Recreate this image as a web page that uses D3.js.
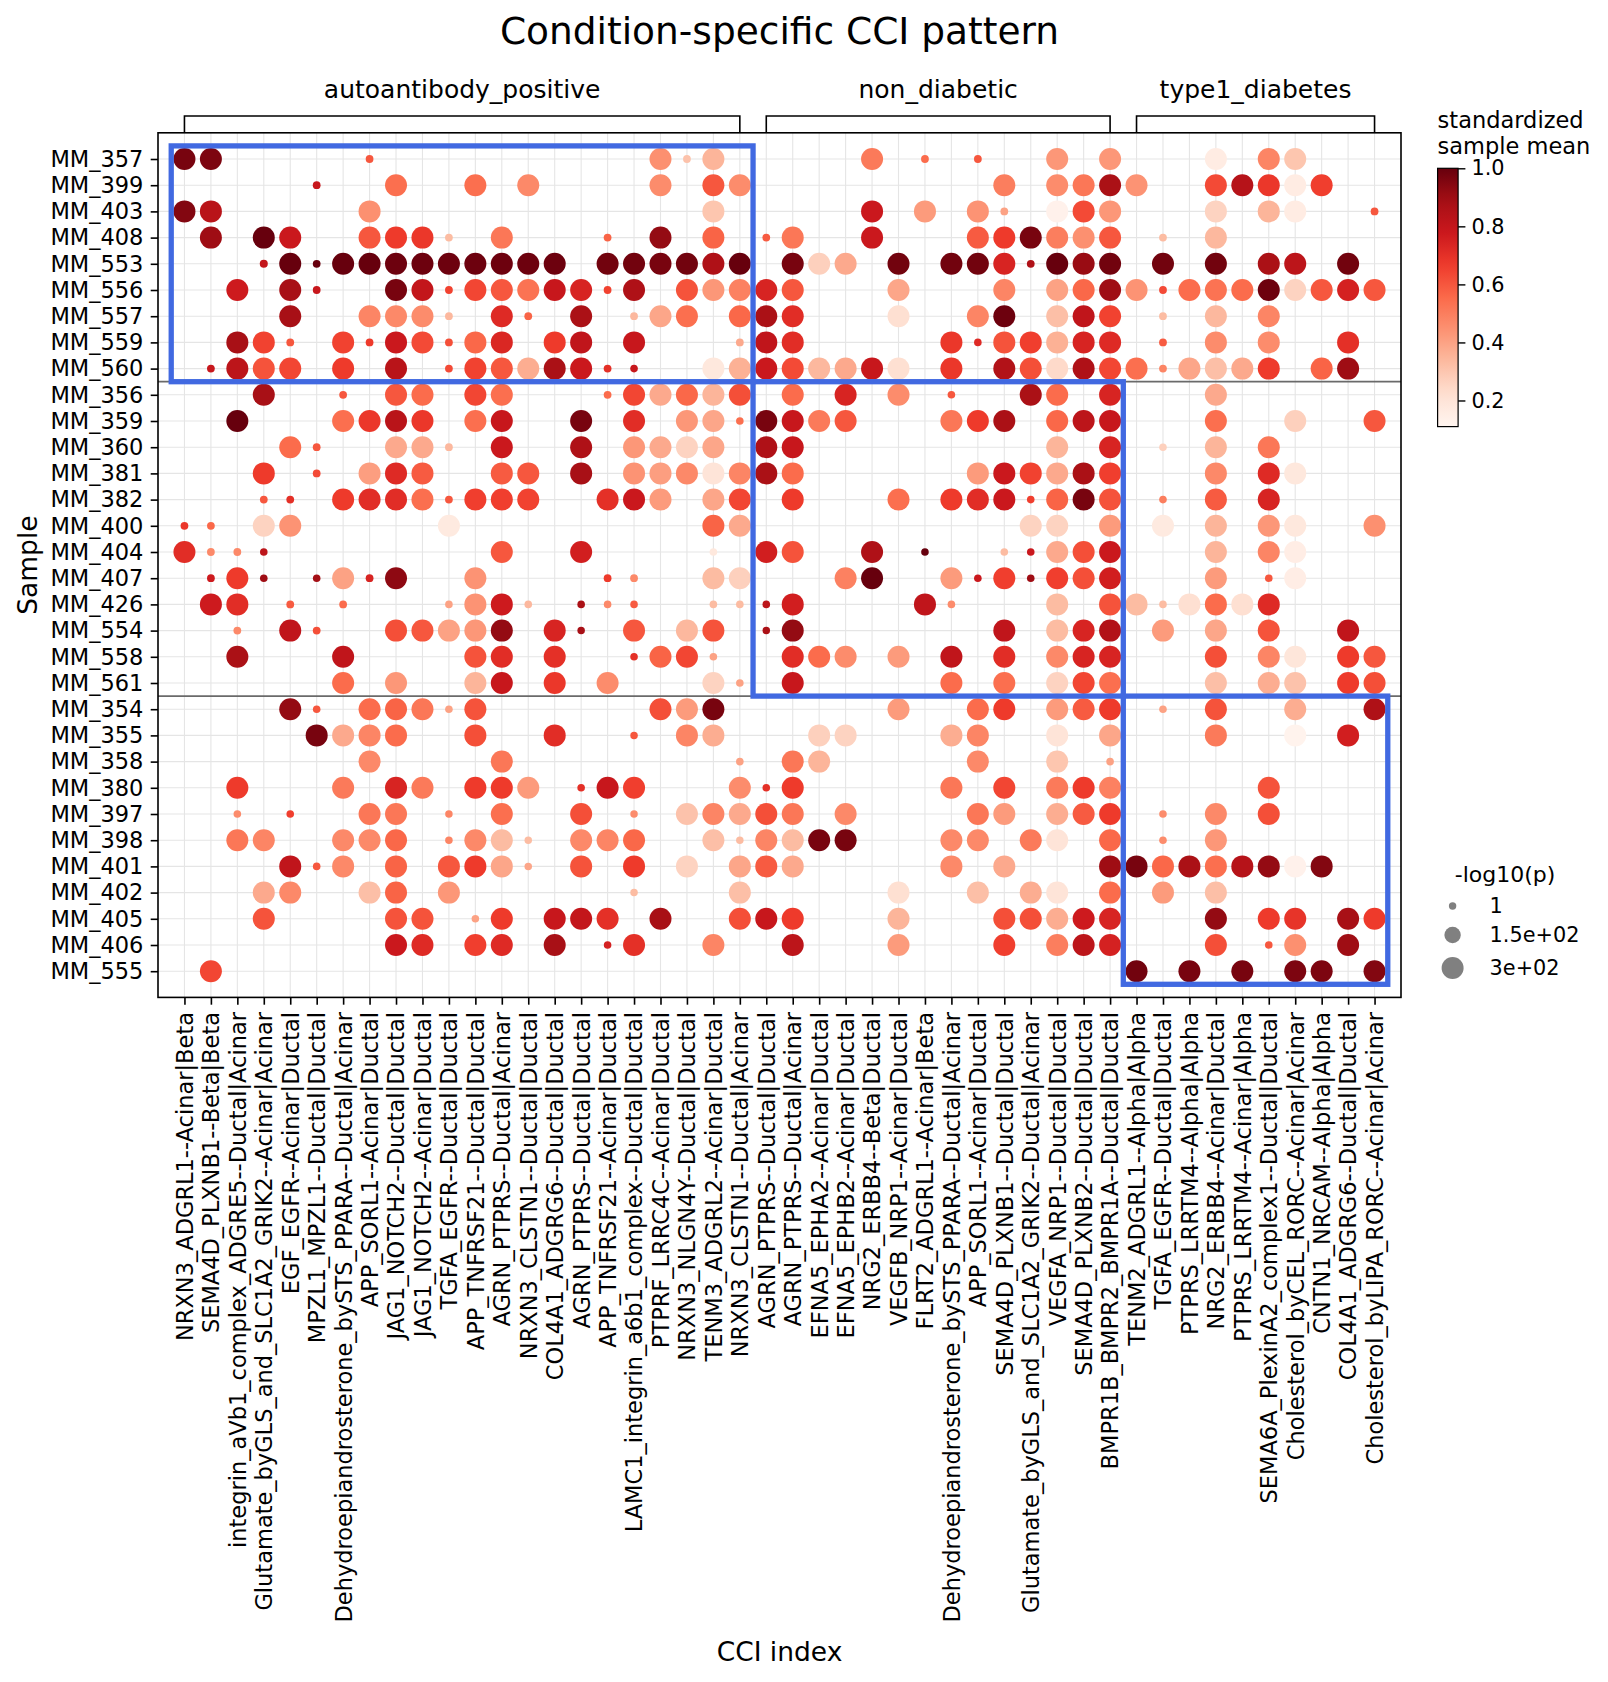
<!DOCTYPE html>
<html><head><meta charset="utf-8">
<script src="https://cdn.jsdelivr.net/npm/d3@7"></script>
<style>body{margin:0;background:#fff}svg text{font-family:"DejaVu Sans",sans-serif;fill:#000}</style>
</head><body>
<svg id="chart" width="1608" height="1682"></svg>
<script>
// ---------------- DATA ----------------
const samples = ["MM_357","MM_399","MM_403","MM_408","MM_553","MM_556","MM_557","MM_559","MM_560",
  "MM_356","MM_359","MM_360","MM_381","MM_382","MM_400","MM_404","MM_407","MM_426","MM_554","MM_558","MM_561",
  "MM_354","MM_355","MM_358","MM_380","MM_397","MM_398","MM_401","MM_402","MM_405","MM_406","MM_555"];
const sampleGroupSizes = [9, 12, 11];
const cciIndex = ["NRXN3_ADGRL1--Acinar|Beta","SEMA4D_PLXNB1--Beta|Beta","integrin_aVb1_complex_ADGRE5--Ductal|Acinar",
  "Glutamate_byGLS_and_SLC1A2_GRIK2--Acinar|Acinar","EGF_EGFR--Acinar|Ductal","MPZL1_MPZL1--Ductal|Ductal",
  "Dehydroepiandrosterone_bySTS_PPARA--Ductal|Acinar","APP_SORL1--Acinar|Ductal","JAG1_NOTCH2--Ductal|Ductal",
  "JAG1_NOTCH2--Acinar|Ductal","TGFA_EGFR--Ductal|Ductal","APP_TNFRSF21--Ductal|Ductal","AGRN_PTPRS--Ductal|Acinar",
  "NRXN3_CLSTN1--Ductal|Ductal","COL4A1_ADGRG6--Ductal|Ductal","AGRN_PTPRS--Ductal|Ductal","APP_TNFRSF21--Acinar|Ductal",
  "LAMC1_integrin_a6b1_complex--Ductal|Ductal","PTPRF_LRRC4C--Acinar|Ductal","NRXN3_NLGN4Y--Ductal|Ductal",
  "TENM3_ADGRL2--Acinar|Ductal","NRXN3_CLSTN1--Ductal|Acinar","AGRN_PTPRS--Ductal|Ductal","AGRN_PTPRS--Ductal|Acinar",
  "EFNA5_EPHA2--Acinar|Ductal","EFNA5_EPHB2--Acinar|Ductal","NRG2_ERBB4--Beta|Ductal","VEGFB_NRP1--Acinar|Ductal",
  "FLRT2_ADGRL1--Acinar|Beta","Dehydroepiandrosterone_bySTS_PPARA--Ductal|Acinar","APP_SORL1--Acinar|Ductal",
  "SEMA4D_PLXNB1--Ductal|Ductal","Glutamate_byGLS_and_SLC1A2_GRIK2--Ductal|Acinar","VEGFA_NRP1--Ductal|Ductal",
  "SEMA4D_PLXNB2--Ductal|Ductal","BMPR1B_BMPR2_BMPR1A--Ductal|Ductal","TENM2_ADGRL1--Alpha|Alpha","TGFA_EGFR--Ductal|Ductal",
  "PTPRS_LRRTM4--Alpha|Alpha","NRG2_ERBB4--Acinar|Ductal","PTPRS_LRRTM4--Acinar|Alpha","SEMA6A_PlexinA2_complex1--Ductal|Ductal",
  "Cholesterol_byCEL_RORC--Acinar|Acinar","CNTN1_NRCAM--Alpha|Alpha","COL4A1_ADGRG6--Ductal|Ductal","Cholesterol_byLIPA_RORC--Acinar|Acinar"];
const groupNames = ["autoantibody_positive","non_diabetic","type1_diabetes"];
const cciGroupSizes = [22, 14, 10];
const colorDomain = [0.11, 1.0];
const colorbarTicks = [0.2, 0.4, 0.6, 0.8, 1.0];
const sizeDomain = [1, 300];
const sizeLegendValues = [1, 150, 300];
const sizeLegendLabels = ["1", "1.5e+02", "3e+02"];

// [sample, [[cci column (1-based), standardized sample mean, -log10(p)], ...]]
const autoantibodyDots = [
 ["MM_357",[[1,.97,300],[2,.96,300],[8,.6,5],[19,.45,300],[20,.31,5],[21,.35,300],[27,.51,300],[29,.55,5],[31,.6,5],[34,.43,300],[36,.43,300],[40,.16,300],[42,.48,300],[43,.3,300]]],
 ["MM_399",[[6,.79,5],[9,.54,300],[12,.54,300],[14,.47,300],[19,.46,300],[21,.6,300],[22,.46,300],[32,.5,300],[34,.46,300],[35,.52,300],[36,.87,300],[37,.44,300],[40,.63,300],[41,.84,300],[42,.68,300],[43,.16,300],[44,.66,300]]],
 ["MM_403",[[1,.95,300],[2,.83,300],[8,.45,300],[21,.3,300],[27,.78,300],[29,.42,300],[31,.44,300],[32,.4,5],[34,.13,300],[35,.63,300],[36,.43,300],[40,.26,300],[42,.35,300],[43,.16,300],[46,.6,5]]],
 ["MM_408",[[2,.9,300],[4,1,300],[5,.78,300],[8,.6,300],[9,.67,300],[10,.68,300],[11,.33,5],[13,.52,300],[17,.57,5],[19,.92,300],[21,.57,300],[23,.59,5],[24,.52,300],[27,.78,300],[31,.59,300],[32,.67,300],[33,.97,300],[34,.5,300],[35,.45,300],[36,.6,300],[38,.33,5],[40,.34,300]]],
 ["MM_553",[[4,.8,8],[5,1,300],[6,1,5],[7,1,300],[8,1,300],[9,.99,300],[10,.99,300],[11,.99,300],[12,.99,300],[13,.99,300],[14,.99,300],[15,.99,300],[17,.98,300],[18,.98,300],[19,.97,300],[20,.98,300],[21,.86,300],[22,1,300],[24,.97,300],[25,.27,300],[26,.38,300],[28,.98,300],[30,.98,300],[31,.98,300],[32,.74,300],[33,.86,5],[34,1,300],[35,.91,300],[36,.98,300],[38,.98,300],[40,.98,300],[42,.87,300],[43,.82,300],[45,.98,300]]],
 ["MM_556",[[3,.77,300],[5,.88,300],[6,.79,5],[9,.97,300],[10,.8,300],[11,.65,5],[12,.64,300],[13,.6,300],[14,.53,300],[15,.79,300],[16,.74,300],[17,.65,5],[18,.86,300],[20,.61,300],[21,.43,300],[22,.49,300],[23,.74,300],[24,.6,300],[28,.39,300],[32,.48,300],[34,.4,300],[35,.56,300],[36,.9,300],[37,.44,300],[38,.63,5],[39,.55,300],[40,.53,300],[41,.55,300],[42,.99,300],[43,.26,300],[44,.6,300],[45,.75,300],[46,.6,300]]],
 ["MM_557",[[5,.88,300],[8,.48,300],[9,.47,300],[10,.46,300],[11,.34,5],[13,.72,300],[14,.57,5],[16,.87,300],[18,.34,5],[19,.39,300],[20,.54,300],[22,.56,300],[23,.87,300],[24,.71,300],[28,.22,300],[31,.48,300],[32,.99,300],[34,.32,300],[35,.81,300],[36,.65,300],[38,.33,5],[40,.34,300],[42,.48,300]]],
 ["MM_559",[[3,.88,300],[4,.65,300],[5,.6,5],[7,.65,300],[8,.67,5],[9,.78,300],[10,.63,300],[11,.62,5],[12,.56,300],[13,.73,300],[15,.67,300],[16,.81,300],[18,.79,300],[22,.38,5],[23,.81,300],[24,.71,300],[30,.68,300],[31,.72,3],[32,.61,300],[33,.66,300],[34,.36,300],[35,.74,300],[36,.72,300],[38,.59,5],[40,.46,300],[42,.46,300],[45,.7,300]]],
 ["MM_560",[[2,.79,5],[3,.82,300],[4,.61,300],[5,.64,300],[7,.67,300],[9,.83,300],[11,.63,5],[12,.65,300],[13,.6,300],[14,.37,300],[15,.87,300],[16,.78,300],[17,.7,5],[18,.79,3],[21,.18,300],[22,.36,300],[23,.78,300],[24,.63,300],[25,.34,300],[26,.38,300],[27,.79,300],[28,.22,300],[30,.68,300],[32,.85,300],[33,.62,300],[34,.24,300],[35,.86,300],[36,.64,300],[37,.54,300],[38,.48,5],[39,.39,300],[40,.32,300],[41,.38,300],[42,.67,300],[44,.57,300],[45,.9,300]]]
];
const nonDiabeticDots = [
 ["MM_356",[[4,.88,300],[7,.6,5],[9,.6,300],[10,.55,300],[12,.64,300],[13,.54,300],[17,.55,5],[18,.64,300],[19,.38,300],[20,.56,300],[21,.35,300],[22,.62,300],[24,.55,300],[26,.74,300],[28,.46,300],[30,.6,3],[33,.87,300],[34,.55,300],[36,.74,300],[40,.38,300]]],
 ["MM_359",[[3,1,300],[7,.54,300],[8,.68,300],[9,.83,300],[10,.68,300],[12,.54,300],[13,.79,300],[16,.97,300],[18,.71,300],[20,.43,300],[21,.39,300],[22,.54,3],[23,.97,300],[24,.79,300],[25,.51,300],[26,.6,300],[30,.52,300],[31,.67,300],[32,.87,300],[34,.56,300],[35,.82,300],[36,.79,300],[40,.54,300],[43,.27,300],[46,.6,300]]],
 ["MM_360",[[5,.55,300],[6,.6,5],[9,.38,300],[10,.38,300],[11,.34,5],[13,.78,300],[16,.86,300],[18,.43,300],[19,.38,300],[20,.26,300],[21,.39,300],[23,.86,300],[24,.79,300],[34,.35,300],[36,.74,300],[38,.27,3],[40,.35,300],[42,.52,300]]],
 ["MM_381",[[4,.67,300],[6,.63,5],[8,.41,300],[9,.72,300],[10,.59,300],[13,.59,300],[14,.6,300],[16,.88,300],[18,.44,300],[19,.41,300],[20,.47,300],[21,.2,300],[22,.48,300],[23,.87,300],[24,.55,300],[31,.42,300],[32,.78,300],[33,.65,300],[34,.38,300],[35,.87,300],[36,.66,300],[40,.47,300],[42,.72,300],[43,.18,300]]],
 ["MM_382",[[4,.6,5],[5,.7,5],[7,.67,300],[8,.71,300],[9,.71,300],[10,.54,300],[11,.6,5],[12,.66,300],[13,.66,300],[14,.65,300],[17,.7,300],[18,.78,300],[19,.42,300],[21,.39,300],[22,.64,300],[24,.67,300],[28,.54,300],[30,.67,300],[31,.71,300],[32,.78,300],[33,.66,3],[34,.57,300],[35,.97,300],[36,.61,300],[38,.5,3],[40,.59,300],[42,.74,300]]],
 ["MM_400",[[1,.68,5],[2,.56,5],[4,.26,300],[5,.44,300],[11,.17,300],[21,.57,300],[22,.38,300],[33,.26,300],[34,.26,300],[36,.42,300],[38,.17,300],[40,.35,300],[42,.43,300],[43,.18,300],[46,.45,300]]],
 ["MM_404",[[1,.71,300],[2,.47,5],[3,.47,5],[4,.82,3],[13,.6,300],[16,.76,300],[21,.18,3],[23,.76,300],[24,.61,300],[27,.86,300],[29,1,3],[32,.33,3],[33,.78,3],[34,.38,300],[35,.62,300],[36,.78,300],[40,.35,300],[42,.48,300],[43,.15,300]]],
 ["MM_407",[[2,.77,5],[3,.67,300],[4,.9,3],[6,.89,3],[7,.4,300],[8,.74,5],[9,.93,300],[12,.44,300],[17,.67,5],[18,.47,5],[21,.33,300],[22,.27,300],[26,.49,300],[27,1,300],[30,.42,300],[31,.78,3],[32,.66,300],[33,.9,3],[34,.66,300],[35,.62,300],[36,.76,300],[40,.42,300],[42,.6,3],[43,.15,300]]],
 ["MM_426",[[2,.77,300],[3,.71,300],[5,.59,5],[7,.55,5],[11,.4,3],[12,.44,300],[13,.77,300],[14,.34,3],[16,.87,3],[17,.47,3],[18,.59,3],[21,.33,3],[22,.33,3],[23,.82,3],[24,.76,300],[29,.81,300],[30,.46,3],[34,.33,300],[36,.61,300],[37,.33,300],[38,.33,3],[39,.22,300],[40,.55,300],[41,.22,300],[42,.72,300]]],
 ["MM_554",[[3,.47,5],[5,.81,300],[6,.62,5],[9,.62,300],[10,.6,300],[11,.4,300],[12,.43,300],[13,.92,300],[15,.74,300],[16,.88,2],[18,.6,300],[20,.34,300],[21,.61,300],[23,.87,2],[24,.92,300],[32,.81,300],[34,.33,300],[35,.74,300],[36,.85,300],[38,.42,300],[40,.39,300],[42,.61,300],[45,.81,300]]],
 ["MM_558",[[3,.87,300],[7,.81,300],[12,.61,300],[13,.71,300],[15,.7,300],[18,.7,3],[19,.57,300],[20,.64,300],[21,.4,3],[24,.71,300],[25,.55,300],[26,.46,300],[28,.42,300],[30,.81,300],[32,.71,300],[34,.47,300],[35,.74,300],[36,.74,300],[40,.62,300],[42,.48,300],[43,.19,300],[45,.67,300],[46,.6,300]]],
 ["MM_561",[[7,.55,300],[9,.43,300],[12,.35,300],[13,.79,300],[15,.68,300],[17,.46,300],[21,.26,300],[22,.4,3],[24,.79,300],[30,.55,300],[32,.54,300],[34,.26,300],[35,.64,300],[36,.54,300],[40,.32,300],[42,.37,300],[43,.31,300],[45,.67,300],[46,.62,300]]]
];
const type1Dots = [
 ["MM_354",[[5,.92,300],[6,.6,3],[8,.55,300],[9,.57,300],[10,.52,300],[11,.4,3],[12,.61,300],[19,.62,300],[20,.42,300],[21,.97,300],[28,.42,300],[31,.55,300],[32,.67,300],[34,.42,300],[35,.59,300],[36,.67,300],[38,.4,3],[40,.61,300],[43,.37,300],[46,.86,300]]],
 ["MM_355",[[6,.97,300],[7,.38,300],[8,.48,300],[9,.55,300],[12,.62,300],[15,.71,300],[18,.6,2],[20,.48,300],[21,.37,300],[25,.27,300],[26,.26,300],[30,.37,300],[31,.48,300],[34,.2,300],[36,.39,300],[40,.51,300],[43,.12,300],[45,.76,300]]],
 ["MM_358",[[8,.47,300],[13,.52,300],[22,.4,3],[24,.52,300],[25,.35,300],[31,.47,300],[34,.3,300],[36,.4,3]]],
 ["MM_380",[[3,.67,300],[7,.51,300],[9,.74,300],[10,.51,300],[12,.67,300],[13,.67,300],[14,.42,300],[16,.7,3],[17,.79,300],[18,.66,300],[22,.46,300],[23,.7,3],[24,.67,300],[30,.52,300],[32,.64,300],[34,.51,300],[35,.67,300],[36,.49,300],[42,.61,300]]],
 ["MM_397",[[3,.46,3],[5,.66,3],[8,.52,300],[9,.52,300],[11,.48,2],[13,.54,300],[16,.62,300],[18,.46,2],[20,.31,300],[21,.48,300],[22,.38,300],[23,.62,300],[24,.52,300],[26,.47,300],[31,.52,300],[32,.42,300],[34,.37,300],[35,.59,300],[36,.67,300],[38,.46,3],[40,.47,300],[42,.62,300]]],
 ["MM_398",[[3,.52,300],[4,.48,300],[7,.47,300],[8,.47,300],[9,.56,300],[11,.48,2],[12,.47,300],[13,.33,300],[14,.33,2],[16,.47,300],[17,.48,300],[18,.56,300],[21,.32,300],[22,.33,2],[23,.48,300],[24,.33,300],[25,.97,300],[26,.97,300],[30,.47,300],[31,.47,300],[33,.51,300],[34,.2,300],[36,.56,300],[38,.46,3],[40,.43,300]]],
 ["MM_401",[[5,.81,300],[6,.6,3],[7,.47,300],[9,.57,300],[11,.6,300],[12,.67,300],[13,.39,300],[14,.39,2],[16,.61,300],[18,.67,300],[20,.26,300],[22,.39,300],[23,.59,300],[24,.38,300],[30,.47,300],[32,.38,300],[36,.9,300],[37,.97,300],[38,.56,300],[39,.87,300],[40,.54,300],[41,.84,300],[42,.92,300],[43,.13,300],[44,.95,300]]],
 ["MM_402",[[4,.38,300],[5,.47,300],[8,.32,300],[9,.57,300],[11,.43,300],[18,.33,2],[22,.32,300],[28,.22,300],[31,.32,300],[33,.37,300],[34,.2,300],[36,.55,300],[38,.42,300],[40,.32,300]]],
 ["MM_405",[[4,.61,300],[9,.61,300],[10,.61,300],[12,.4,2],[13,.67,300],[15,.79,300],[16,.8,300],[17,.7,300],[19,.88,300],[22,.62,300],[23,.79,300],[24,.67,300],[28,.35,300],[32,.62,300],[33,.62,300],[34,.37,300],[35,.77,300],[36,.74,300],[40,.92,300],[42,.67,300],[43,.69,300],[45,.88,300],[46,.67,300]]],
 ["MM_406",[[9,.78,300],[10,.72,300],[12,.66,300],[13,.72,300],[15,.88,300],[17,.75,3],[18,.7,300],[21,.48,300],[24,.82,300],[28,.42,300],[32,.66,300],[34,.5,300],[35,.82,300],[36,.75,300],[40,.62,300],[42,.6,3],[43,.45,300],[45,.9,300]]],
 ["MM_555",[[2,.64,300],[37,.98,300],[39,.97,300],[41,.97,300],[43,.96,300],[44,.96,300],[46,.95,300]]]
];

// ---------------- LAYOUT / STYLE ----------------
const svg = d3.select("#chart");
const FONT_TICK = 22.5;
const nC = cciIndex.length, nR = samples.length;
const x = d3.scaleLinear().domain([0, nC + 1]).range([158, 1401]);
const y = d3.scaleLinear().domain([0, nR + 1]).range([132.8, 997.4]);
const redsStops = ["#fff5f0","#fee0d2","#fcbba1","#fc9272","#fb6a4a","#ef3b2c","#cb181d","#a50f15","#67000d"];
const color = d3.scaleLinear()
  .domain(redsStops.map((_, i) => colorDomain[0] + (colorDomain[1] - colorDomain[0]) * i / (redsStops.length - 1)))
  .range(redsStops).interpolate(d3.interpolateRgb).clamp(true);
const radius = d3.scaleRadial().domain(sizeDomain).range([3.7, 11]);

const points = [];
[...autoantibodyDots, ...nonDiabeticDots, ...type1Dots].forEach(([s, cells]) => {
  const r = samples.indexOf(s) + 1;
  cells.forEach(([c, m, p]) => points.push({ r, c, m, p }));
});

// group boundaries
const cumul = a => a.reduce((acc, v) => { acc.push((acc.length ? acc[acc.length - 1] : 0) + v); return acc; }, []);
const colEnds = cumul(cciGroupSizes), rowEnds = cumul(sampleGroupSizes);
const groups = groupNames.map((g, i) => ({
  name: g,
  c0: i ? colEnds[i - 1] + 1 : 1, c1: colEnds[i],
  r0: i ? rowEnds[i - 1] + 1 : 1, r1: rowEnds[i]
}));

// grid
const grid = svg.append("g");
grid.selectAll("line.v").data(d3.range(1, nC + 1)).join("line")
  .attr("x1", d => x(d)).attr("x2", d => x(d)).attr("y1", y(0)).attr("y2", y(nR + 1))
  .attr("stroke", "#e5e5e5").attr("stroke-width", 1.1);
grid.selectAll("line.h").data(d3.range(1, nR + 1)).join("line")
  .attr("y1", d => y(d)).attr("y2", d => y(d)).attr("x1", x(0)).attr("x2", x(nC + 1))
  .attr("stroke", "#e5e5e5").attr("stroke-width", 1.1);

// separators between sample groups
svg.append("g").selectAll("line").data(rowEnds.slice(0, -1)).join("line")
  .attr("x1", x(0)).attr("x2", x(nC + 1)).attr("y1", d => y(d + 0.5)).attr("y2", d => y(d + 0.5))
  .attr("stroke", "#6a6a6a").attr("stroke-width", 1.7);

// dots
svg.append("g").selectAll("circle").data(points).join("circle")
  .attr("cx", d => x(d.c)).attr("cy", d => y(d.r)).attr("r", d => radius(d.p))
  .attr("fill", d => color(d.m));

// highlight boxes
svg.append("g").selectAll("rect").data(groups).join("rect")
  .attr("x", d => x(d.c0 - 0.5)).attr("y", d => y(d.r0 - 0.5))
  .attr("width", d => x(d.c1 + 0.5) - x(d.c0 - 0.5)).attr("height", d => y(d.r1 + 0.5) - y(d.r0 - 0.5))
  .attr("fill", "none").attr("stroke", "#4169e1").attr("stroke-width", 5.3);

// frame
svg.append("rect").attr("x", x(0)).attr("y", y(0)).attr("width", x(nC + 1) - x(0)).attr("height", y(nR + 1) - y(0))
  .attr("fill", "none").attr("stroke", "#000").attr("stroke-width", 1.6);

// axes
const yAxis = d3.axisLeft(y).tickValues(d3.range(1, nR + 1)).tickFormat(i => samples[i - 1]).tickSize(7.3).tickPadding(7.3);
const gy = svg.append("g").attr("transform", `translate(${x(0)},0)`).call(yAxis);
gy.select(".domain").remove();
gy.selectAll("line").attr("stroke", "#000").attr("stroke-width", 1.6);
gy.selectAll("text").attr("font-size", FONT_TICK).attr("font-family", "DejaVu Sans").attr("fill", "#000");

const xAxis = d3.axisBottom(x).tickValues(d3.range(1, nC + 1)).tickFormat(i => cciIndex[i - 1]).tickSize(7.3).tickPadding(7.3);
const gx = svg.append("g").attr("transform", `translate(0,${y(nR + 1)})`).call(xAxis);
gx.select(".domain").remove();
gx.selectAll("line").attr("stroke", "#000").attr("stroke-width", 1.6);
gx.selectAll("text").attr("font-size", FONT_TICK).attr("font-family", "DejaVu Sans").attr("fill", "#000")
  .attr("transform", "rotate(-90)").attr("text-anchor", "end")
  .attr("x", -14.6).attr("y", 0).attr("dy", "0.35em");

// axis labels and title
svg.append("text").attr("x", (x(0) + x(nC + 1)) / 2).attr("y", 43.5).attr("text-anchor", "middle")
  .attr("font-size", 37.5).text("Condition-specific CCI pattern");
svg.append("text").attr("x", (x(0) + x(nC + 1)) / 2).attr("y", 1660.5).attr("text-anchor", "middle")
  .attr("font-size", 26.5).text("CCI index");
svg.append("text").attr("transform", `translate(36.5,${(y(0) + y(nR + 1)) / 2}) rotate(-90)`).attr("text-anchor", "middle")
  .attr("font-size", 26.5).text("Sample");

// group brackets
const br = svg.append("g");
groups.forEach(g => {
  const x0 = x(g.c0), x1 = x(g.c1);
  br.append("path").attr("d", `M${x0},${y(0)}V116H${x1}V${y(0)}`).attr("fill", "none")
    .attr("stroke", "#000").attr("stroke-width", 1.6);
  br.append("text").attr("x", (x0 + x1) / 2).attr("y", 98).attr("text-anchor", "middle")
    .attr("font-size", 25).text(g.name);
});

// colorbar
const cbX = 1437.6, cbW = 20.5, cbTop = 168.3, cbBot = 426.6;
const cy = d3.scaleLinear().domain(colorDomain).range([cbBot, cbTop]);
const defs = svg.append("defs");
const grad = defs.append("linearGradient").attr("id", "cbgrad").attr("x1", 0).attr("y1", 1).attr("x2", 0).attr("y2", 0);
grad.selectAll("stop").data(d3.range(0, 1.0001, 0.05)).join("stop")
  .attr("offset", d => d).attr("stop-color", d => color(colorDomain[0] + d * (colorDomain[1] - colorDomain[0])));
svg.append("rect").attr("x", cbX).attr("y", cbTop).attr("width", cbW).attr("height", cbBot - cbTop)
  .attr("fill", "url(#cbgrad)").attr("stroke", "#000").attr("stroke-width", 1.2);
const cAxis = d3.axisRight(cy).tickValues(colorbarTicks).tickFormat(d3.format(".1f")).tickSize(7.3).tickPadding(6);
const gc = svg.append("g").attr("transform", `translate(${cbX + cbW},0)`).call(cAxis);
gc.select(".domain").remove();
gc.selectAll("line").attr("stroke", "#000").attr("stroke-width", 1.4);
gc.selectAll("text").attr("font-size", 20.8).attr("font-family", "DejaVu Sans").attr("fill", "#000");
const cbt = svg.append("text").attr("x", cbX).attr("font-size", 22.5);
cbt.append("tspan").attr("x", cbX).attr("y", 128).text("standardized");
cbt.append("tspan").attr("x", cbX).attr("y", 154).text("sample mean");

// size legend
svg.append("text").attr("x", 1505).attr("y", 882).attr("text-anchor", "middle").attr("font-size", 22).text("-log10(p)");
const legY = [906, 935, 968];
const sl = svg.append("g").selectAll("g").data(sizeLegendValues).join("g")
  .attr("transform", (d, i) => `translate(1452.6,${legY[i]})`);
sl.append("circle").attr("r", d => radius(d)).attr("fill", "#808080");
sl.append("text").attr("x", 37).attr("dy", "0.35em").attr("font-size", 20.8).text((d, i) => sizeLegendLabels[i]);
</script>
</body></html>
